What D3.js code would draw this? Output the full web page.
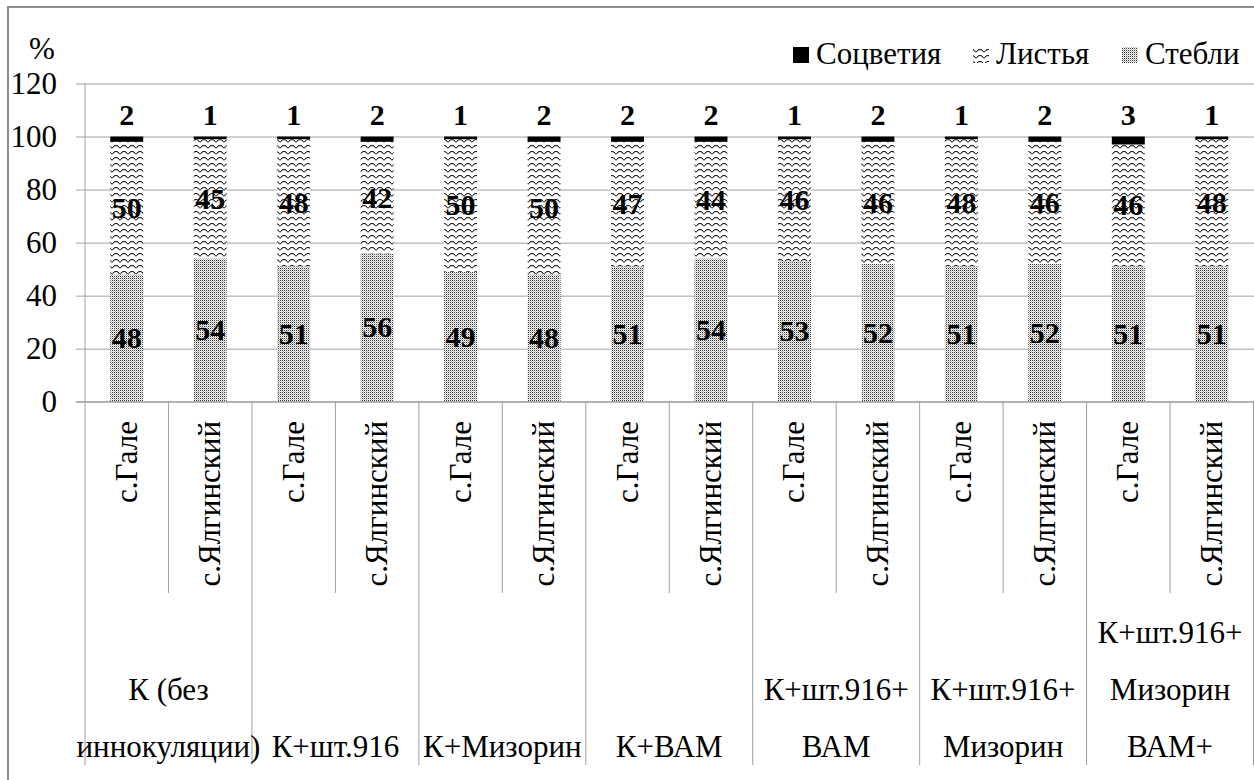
<!DOCTYPE html>
<html>
<head>
<meta charset="utf-8">
<script src="https://cdn.jsdelivr.net/npm/d3@7"></script>
</head>
<body style="margin:0">
<svg id="chart" width="1254" height="780"></svg>
<script>
// Treatment groups (each has two sites); multi-line names split by "\n"
const groups = [
  "К (без\nиннокуляции)",
  "К+шт.916",
  "К+Мизорин",
  "К+ВАМ",
  "К+шт.916+\nВАМ",
  "К+шт.916+\nМизорин",
  "К+шт.916+\nМизорин\nВАМ+"
];
const sites = ["с.Гале", "с.Ялгинский"];

// Share of plant parts, %
const stems   = [48, 54, 51, 56, 49, 48, 51, 54, 53, 52, 51, 52, 51, 51];
const leaves  = [50, 45, 48, 42, 50, 50, 47, 44, 46, 46, 48, 46, 46, 48];
const flowers = [2, 1, 1, 2, 1, 2, 2, 2, 1, 2, 1, 2, 3, 1];

const seriesNames = ["Стебли", "Листья", "Соцветия"];
const legendNames = ["Соцветия", "Листья", "Стебли"];
const yTicks = [0, 20, 40, 60, 80, 100, 120];

const FONT = 31;

// Rows: one per bar
const rows = [];
groups.forEach((g, gi) => sites.forEach((s, si) => {
  const i = gi * sites.length + si;
  rows.push({ key: i, group: g, site: s, "Стебли": stems[i], "Листья": leaves[i], "Соцветия": flowers[i] });
}));

const svg = d3.select("#chart");

// Labels are appended to this layer, which is placed above the marks
const textLayer = () => svg.append("g");
const label = (parent, size, bold) => parent.append("text")
  .attr("font-size", size || FONT)
  .style("font-family", '"Liberation Serif"')
  .style("font-weight", bold ? "bold" : "normal");

const fills = { "Стебли": "url(#pat-stems)", "Листья": "url(#pat-leaves)", "Соцветия": "#000" };

// Frame
svg.append("rect").attr("x", 8).attr("y", 7).attr("width", 1300).attr("height", 820)
  .attr("fill", "none").attr("stroke", "#8c8c8c").attr("stroke-width", 2);

// Scales
const plotLeft = 85, plotRight = 1253.5;
const x = d3.scaleBand().domain(rows.map(d => d.key)).range([plotLeft, plotRight]).padding(0);
const y = d3.scaleLinear().domain([0, 120]).range([401.7, 83.5]);
const barW = x.bandwidth() * 0.395;

// Gridlines from the axis generator (tick text drawn separately)
const yAxis = d3.axisLeft(y).tickValues(yTicks).tickSize(9).tickFormat("");
const gy = svg.append("g").attr("transform", `translate(${plotLeft},0)`).call(yAxis);
gy.select(".domain").remove();
gy.selectAll(".tick text").remove();
gy.selectAll(".tick line").attr("stroke", "#a0a0a0").attr("x1", -9).attr("x2", 1254);

// Stacked bars
const stack = d3.stack().keys(seriesNames);
const layers = stack(rows);
svg.append("g").selectAll("g").data(layers).join("g")
  .attr("fill", d => fills[d.key])
  .selectAll("rect").data(d => d).join("rect")
  .attr("x", d => x(d.data.key) + (x.bandwidth() - barW) / 2)
  .attr("y", d => y(d[1]))
  .attr("width", barW)
  .attr("height", d => y(d[0]) - y(d[1]));

// Category axis: vertical separators
const sepTop = y(0);
const sepG = svg.append("g").attr("stroke", "#a0a0a0").attr("stroke-width", 1);
sepG.append("line").attr("x1", plotLeft).attr("x2", plotLeft).attr("y1", y(120)).attr("y2", sepTop);
d3.range(rows.length + 1).forEach(i => {
  const xx = plotLeft + i * x.step();
  const isGroup = i % sites.length === 0;
  sepG.append("line").attr("x1", xx).attr("x2", xx).attr("y1", sepTop).attr("y2", isGroup ? 765 : 593);
});
svg.append("line").attr("x1", plotLeft - 9).attr("x2", 1254).attr("y1", sepTop).attr("y2", sepTop)
  .attr("stroke", "#a0a0a0");

const texts = textLayer();

// Y tick labels
yTicks.forEach(t => {
  label(texts).attr("x", 57).attr("y", y(t) + 10).attr("text-anchor", "end").text(t);
});

// Site labels, rotated
rows.forEach(d => {
  label(texts)
    .attr("transform", `translate(${x(d.key) + x.bandwidth() / 2 + 10},421) rotate(-90)`)
    .attr("text-anchor", "end")
    .text(d.site);
});

// Group labels, bottom-aligned lines
const lineH = 57;
const groupW = x.step() * sites.length;
groups.forEach((g, gi) => {
  const lines = g.split("\n");
  const cx = plotLeft + gi * groupW + groupW / 2;
  lines.forEach((ln, li) => {
    label(texts)
      .attr("x", cx)
      .attr("y", 757 - (lines.length - 1 - li) * lineH)
      .attr("text-anchor", "middle")
      .text(ln);
  });
});

// Value labels
layers.forEach(layer => {
  layer.forEach(d => {
    const cx = x(d.data.key) + x.bandwidth() / 2;
    const v = d.data[layer.key];
    const yy = layer.key === "Соцветия" ? y(d[1]) - 12 : (y(d[0]) + y(d[1])) / 2 + 10;
    label(texts, 30, true).attr("x", cx).attr("y", yy).attr("text-anchor", "middle").text(v);
  });
});

// Axis title
label(texts).attr("x", 42).attr("y", 59).attr("text-anchor", "middle").text("%");

// Legend: swatch positions along the top-right
const legendX = d3.scaleOrdinal().domain(legendNames).range([793, 973, 1122]);
legendNames.forEach(name => {
  const lx = legendX(name);
  svg.append("rect").attr("x", lx).attr("y", 47).attr("width", 16).attr("height", 16).attr("fill", fills[name]);
  label(texts).attr("x", lx + 23).attr("y", 64).text(name);
});

// Fill patterns
const defs = svg.append("defs");
const wave = defs.append("pattern").attr("id", "pat-leaves")
  .attr("patternUnits", "userSpaceOnUse").attr("width", 8).attr("height", 6);
wave.append("rect").attr("width", 8).attr("height", 6).attr("fill", "#fff");
wave.append("path").attr("d", "M0,4.5 L2,2 L4,1.5 L6,2 L8,4.5")
  .attr("fill", "none").attr("stroke", "#000").attr("stroke-width", 1);
const dots = defs.append("pattern").attr("id", "pat-stems")
  .attr("patternUnits", "userSpaceOnUse").attr("width", 2).attr("height", 2);
dots.append("rect").attr("width", 2).attr("height", 2).attr("fill", "#fff");
dots.append("rect").attr("width", 1).attr("height", 1).attr("fill", "#333");
dots.append("rect").attr("x", 1).attr("y", 1).attr("width", 1).attr("height", 1).attr("fill", "#bbb");
</script>
</body>
</html>
